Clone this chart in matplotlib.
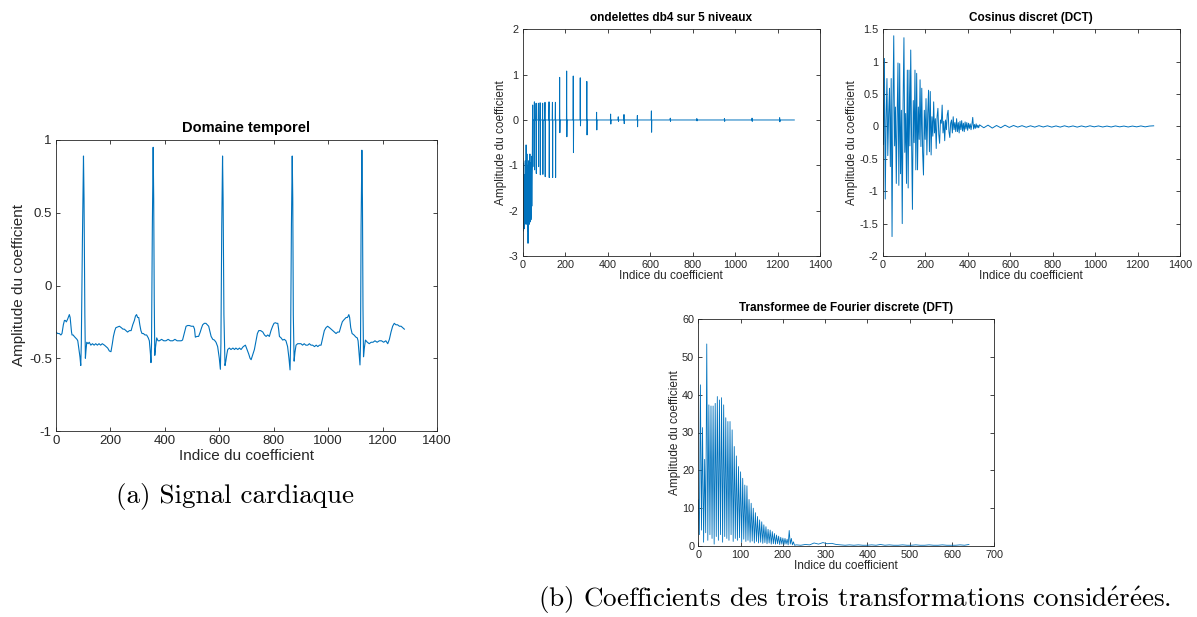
# Figure : signal cardiaque et coefficients des trois transformations
# (domaine temporel, ondelettes db4, DCT, DFT)

import numpy as np
import matplotlib
matplotlib.use('Agg')
import matplotlib.pyplot as plt

plt.rcParams['font.family'] = ['Liberation Sans', 'DejaVu Sans']
plt.rcParams['axes.unicode_minus'] = False
plt.rcParams['mathtext.fontset'] = 'cm'

BLEU = '#0072BD'
GRIS = '#262626'
SERIF = ['cmr10', 'DejaVu Serif']

# --- (a) signal cardiaque : sommets ---
ecg_idx = [0, 6, 12, 18, 22, 27, 31, 34, 38, 43, 47, 49, 52, 54, 57, 59, 63, 67, 72, 77,
           80, 83, 88, 91, 93, 97, 101, 103, 106, 108, 110, 113, 118, 122, 128, 134, 140,
           146, 152, 158, 164, 170, 178, 184, 190, 196, 202, 207, 211, 216, 220, 226, 233,
           240, 246, 251, 257, 263, 270, 276, 282, 288, 292, 296, 300, 304, 308, 312, 316,
           321, 327, 333, 339, 343, 347, 349, 351, 354, 357, 359, 361, 363, 366, 370, 375,
           380, 388, 396, 404, 412, 420, 429, 437, 445, 453, 460, 465, 471, 478, 484, 490,
           497, 505, 509, 512, 518, 524, 530, 535, 539, 545, 551, 556, 561, 565, 570, 576,
           582, 588, 594, 600, 604, 606, 609, 612, 614, 617, 621, 624, 628, 631, 637, 643,
           650, 656, 661, 668, 674, 680, 688, 696, 702, 708, 713, 717, 722, 729, 735, 740,
           745, 752, 760, 766, 772, 778, 784, 790, 796, 801, 806, 811, 815, 818, 821, 827,
           833, 839, 845, 851, 856, 860, 862, 865, 868, 870, 872, 875, 878, 882, 888, 894,
           900, 906, 912, 918, 925, 931, 937, 943, 950, 956, 962, 968, 974, 980, 986, 992,
           998, 1005, 1011, 1017, 1023, 1029, 1035, 1041, 1047, 1052, 1056, 1061, 1066,
           1071, 1076, 1079, 1083, 1088, 1095, 1102, 1107, 1110, 1114, 1117, 1119, 1121,
           1124, 1126, 1128, 1130, 1133, 1137, 1144, 1151, 1158, 1165, 1172, 1180, 1188,
           1196, 1204, 1212, 1219, 1225, 1231, 1237, 1243, 1249, 1255, 1262, 1268, 1274, 1280]
ecg_val = [-0.32, -0.33, -0.33, -0.34, -0.33, -0.27, -0.24, -0.24, -0.25, -0.23, -0.21,
           -0.20, -0.22, -0.26, -0.32, -0.34, -0.34, -0.35, -0.36, -0.37, -0.38, -0.42,
           -0.49, -0.55, -0.40, 0.30, 0.89, 0.60, -0.20, -0.50, -0.45, -0.39, -0.40, -0.39,
           -0.41, -0.40, -0.41, -0.40, -0.41, -0.40, -0.41, -0.40, -0.41, -0.42, -0.43,
           -0.45, -0.455, -0.40, -0.35, -0.31, -0.29, -0.285, -0.28, -0.29, -0.30, -0.30,
           -0.31, -0.32, -0.31, -0.31, -0.27, -0.24, -0.21, -0.20, -0.22, -0.22, -0.27,
           -0.31, -0.33, -0.33, -0.34, -0.34, -0.36, -0.38, -0.47, -0.53, -0.40, 0.40, 0.95,
           0.60, -0.10, -0.48, -0.42, -0.36, -0.38, -0.38, -0.37, -0.38, -0.38, -0.37,
           -0.38, -0.38, -0.37, -0.38, -0.38, -0.38, -0.375, -0.33, -0.28, -0.275, -0.275,
           -0.28, -0.28, -0.30, -0.355, -0.35, -0.35, -0.32, -0.29, -0.27, -0.26, -0.26,
           -0.27, -0.28, -0.31, -0.35, -0.37, -0.375, -0.39, -0.42, -0.50, -0.576, -0.40,
           0.40, 0.89, 0.60, -0.20, -0.55, -0.52, -0.47, -0.44, -0.43, -0.44, -0.43, -0.44,
           -0.43, -0.44, -0.43, -0.44, -0.42, -0.41, -0.44, -0.47, -0.50, -0.51, -0.48,
           -0.44, -0.38, -0.33, -0.31, -0.31, -0.32, -0.34, -0.35, -0.34, -0.35, -0.31,
           -0.28, -0.26, -0.256, -0.26, -0.26, -0.30, -0.35, -0.36, -0.375, -0.37, -0.38,
           -0.42, -0.50, -0.58, -0.40, 0.40, 0.89, 0.60, -0.20, -0.52, -0.46, -0.41, -0.40,
           -0.40, -0.40, -0.41, -0.40, -0.41, -0.41, -0.40, -0.41, -0.41, -0.42, -0.41,
           -0.42, -0.41, -0.41, -0.36, -0.31, -0.29, -0.28, -0.29, -0.30, -0.31, -0.32,
           -0.33, -0.32, -0.32, -0.28, -0.25, -0.24, -0.23, -0.22, -0.22, -0.20, -0.22,
           -0.29, -0.33, -0.34, -0.355, -0.36, -0.38, -0.47, -0.546, -0.40, 0.40, 0.93,
           0.60, -0.15, -0.49, -0.43, -0.375, -0.39, -0.40, -0.39, -0.39, -0.38, -0.39,
           -0.38, -0.38, -0.39, -0.38, -0.40, -0.37, -0.32, -0.28, -0.26, -0.27, -0.27,
           -0.28, -0.28, -0.29, -0.30]

# --- ondelettes db4 : approximation puis pics des details ---
wav_approx = [-0.85, -2.2, -1.3, -2.45, -0.95, -2.1, -1.8, -2.4, -1.2, -2.0,
              -1.4, -2.3, -0.9, -2.1, -1.1, -2.0, -0.55, -2.2, -1.0, -2.3,
              -0.75, -2.1, -1.2, -2.45, -1.0, -2.72, -1.4, -2.35, -0.9, -2.2,
              -1.0, -2.3, -1.35, -2.1, -0.75, -2.25, -1.1, -2.15, -0.95, -2.2,
              -1.6, -2.1, -0.8, -1.9, -1.2, -1.0]
wav_pic_idx = [47, 55, 63, 74, 82, 94, 105, 124, 140, 154,
               174, 207, 238, 271, 302, 348, 414, 450, 477, 540, 606,
               695, 820, 950, 1080, 1210]
wav_pic_haut = [0.33, 0.40, 0.37, 0.37, 0.38, 0.37, 0.39, 0.40, 0.39, 0.39,
                0.94, 1.08, 0.97, 0.93, 0.85, 0.17, 0.13, 0.07, 0.12, 0.10, 0.20,
                0.04, 0.03, 0.03, 0.04, 0.05]
wav_pic_bas = [-1.03, -1.10, -1.18, -1.03, -1.21, -1.20, -1.25, -1.27, -1.27, -1.27,
               -0.28, -0.37, -0.72, -0.13, -0.33, -0.22, -0.09, -0.03, -0.08, -0.15, -0.27,
               -0.03, -0.02, -0.03, -0.03, -0.04]
n_coef = 1280

# --- DCT : valeurs lues tous les 4 indices jusqu'a 452, puis tous les 20 ---
dct_tete = [0.40, -0.28, 1.05, -1.12, 0.10, 0.74, -0.45, 0.20, 0.59, -0.62,
            0.74, -1.70, 0.25, 1.40, -0.30, 0.30, -0.88, 0.15, 0.98, -0.91,
            0.97, -0.73, 0.25, -1.50, 0.35, 1.37, -0.40, 0.20, -0.88, 0.87,
            -0.95, 0.87, -0.30, 1.18, -0.20, -1.28, 0.40, -0.25, 0.87, -0.67,
            0.82, -0.67, 0.30, -0.20, 0.72, -0.31, 0.59, -0.40, -0.75, 0.25,
            -0.20, 0.43, -0.44, 0.20, 0.56, -0.39, 0.54, -0.44, 0.15, -0.15,
            0.38, -0.10, 0.12, -0.34, 0.15, 0.28, -0.12, -0.26, 0.10, 0.05,
            0.33, -0.10, 0.08, -0.22, 0.10, -0.05, 0.18, 0.25, -0.08, -0.17,
            0.05, 0.10, -0.10, 0.15, -0.05, 0.06, -0.08, 0.12, -0.08, 0.06,
            -0.10, 0.08, -0.05, 0.09, -0.07, 0.05, -0.08, 0.07, -0.04, 0.06,
            -0.06, 0.05, -0.03, 0.04, -0.05, 0.03, 0.14, -0.04, 0.03, -0.03,
            0.04, -0.02, 0.02, -0.02]
dct_queue = [0.025, -0.02, 0.02, -0.025, 0.015, -0.02, 0.02, -0.015, 0.015, -0.01,
             0.012, -0.012, 0.01, -0.01, 0.012, -0.008, 0.01, -0.01, 0.008, -0.01,
             0.01, -0.008, 0.008, -0.01, 0.008, -0.008, 0.01, -0.006, 0.008, -0.008,
             0.006, -0.008, 0.008, -0.006, 0.006, -0.008, 0.006, -0.006, 0.008, -0.006,
             0.006, 0.01]

# --- DFT : harmoniques (tous les 5 bins), creux entre elles, queue ---
dft_pics = [12.2, 42.6, 31.3, 22.9, 53.4, 37.3, 37.0, 37.0, 37.7, 39.5,
            38.6, 39.2, 37.3, 33.9, 32.9, 32.9, 30.7, 26.3, 23.8, 21.0,
            19.6, 17.9, 16.1, 15.9, 12.3, 11.3, 10.0, 8.8, 7.8, 6.9,
            6.4, 5.6, 5.1, 4.4, 4.2, 3.8, 3.3, 2.9, 2.6, 2.3,
            2.1, 2.0, 1.8, 4.1, 2.0, 1.1]
dft_creux = [3.0, 4.2, 1.0, 3.5, 1.5, 3.0, 2.0, 0.5, 2.5, 1.5,
             3.0, 1.0, 2.5, 2.0, 1.5, 3.0, 1.2, 2.0, 1.5, 2.2,
             1.0, 1.8, 1.2, 1.5, 1.0, 1.3, 0.8, 1.2, 0.8, 1.0,
             0.7, 0.9, 0.6, 0.8, 0.5, 0.6, 0.5, 0.6, 0.4, 0.5,
             0.4, 0.5, 0.3, 0.5, 0.3, 0.2]
dft_queue = [0.3, 0.2, 0.4, 0.3, 0.8, 0.5, 0.9, 0.6, 0.7, 0.4,
             0.3, 0.2, 0.3, 0.2, 0.3, 0.2, 0.2, 0.3, 0.2, 0.4,
             0.2, 0.3, 0.2, 0.2, 0.3, 0.2, 0.2, 0.3, 0.2, 0.2,
             0.3, 0.2, 0.2, 0.3, 0.2, 0.2, 0.2, 0.3, 0.2, 0.4]


def style_matlab(ax, taille_ticks):
    """Axes facon MATLAB : cadre gris, graduations vers l'interieur"""
    for s in ax.spines.values():
        s.set_color(GRIS)
        s.set_linewidth(0.6)
    ax.tick_params(direction='in', top=True, right=True, length=3,
                   width=0.6, colors=GRIS, labelsize=taille_ticks, pad=3)


W, H = 1197, 617
fig = plt.figure(figsize=(W / 100, H / 100), dpi=100)


def axes_px(gauche, haut, droite, bas):
    return fig.add_axes([gauche / W, 1 - bas / H, (droite - gauche) / W, (bas - haut) / H])


# (a) domaine temporel
ax = axes_px(56, 140, 437, 431)
ax.plot(ecg_idx, ecg_val, color=BLEU, lw=0.8)
ax.set_xlim(0, 1400)
ax.set_ylim(-1, 1)
ax.set_xticks(np.arange(0, 1401, 200))
ax.set_yticks([-1, -0.5, 0, 0.5, 1])
ax.set_yticklabels(['-1', '-0.5', '0', '0.5', '1'])
style_matlab(ax, 9.5)
ax.set_title('Domaine temporel', fontsize=10.5, fontweight='bold', pad=6)
ax.set_xlabel('Indice du coefficient', fontsize=11, color=GRIS, labelpad=1)
ax.set_ylabel('Amplitude du coefficient', fontsize=11, color=GRIS, labelpad=2)

# ondelettes db4
wav = np.zeros(n_coef)
wav[:len(wav_approx)] = wav_approx
for i, h, b in zip(wav_pic_idx, wav_pic_haut, wav_pic_bas):
    wav[i] = h
    wav[i + 1] = b
ax = axes_px(522.7, 29.3, 820, 256)
ax.plot(np.arange(n_coef), wav, color=BLEU, lw=0.7)
ax.set_xlim(0, 1400)
ax.set_ylim(-3, 2)
ax.set_xticks(np.arange(0, 1401, 200))
style_matlab(ax, 7.8)
ax.set_title('ondelettes db4 sur 5 niveaux', fontsize=8.5, fontweight='bold', pad=6)
ax.set_xlabel('Indice du coefficient', fontsize=8.5, color=GRIS, labelpad=0)
ax.set_ylabel('Amplitude du coefficient', fontsize=8.5, color=GRIS, labelpad=1)

# DCT
dct_x = np.concatenate([np.arange(len(dct_tete)) * 4,
                        456 + np.arange(len(dct_queue)) * 20])
dct_y = np.concatenate([dct_tete, dct_queue])
ax = axes_px(882.7, 29.3, 1180, 256)
ax.plot(dct_x, dct_y, color=BLEU, lw=0.7)
ax.set_xlim(0, 1400)
ax.set_ylim(-2, 1.5)
ax.set_xticks(np.arange(0, 1401, 200))
ax.set_yticks([-2, -1.5, -1, -0.5, 0, 0.5, 1, 1.5])
ax.set_yticklabels(['-2', '-1.5', '-1', '-0.5', '0', '0.5', '1', '1.5'])
style_matlab(ax, 7.8)
ax.set_title('Cosinus discret (DCT)', fontsize=8.5, fontweight='bold', pad=6)
ax.set_xlabel('Indice du coefficient', fontsize=8.5, color=GRIS, labelpad=0)
ax.set_ylabel('Amplitude du coefficient', fontsize=8.5, color=GRIS, labelpad=1)

# DFT
pics_x = np.arange(len(dft_pics)) * 5
dft_x = np.concatenate([np.column_stack([pics_x, pics_x + 2.5]).ravel(),
                        np.linspace(232, 640, len(dft_queue))])
dft_y = np.concatenate([np.column_stack([dft_pics, dft_creux]).ravel(), dft_queue])
ax = axes_px(698.3, 319, 994.3, 546)
ax.plot(dft_x, dft_y, color=BLEU, lw=0.6)
ax.set_xlim(0, 700)
ax.set_ylim(0, 60)
ax.set_xticks(np.arange(0, 701, 100))
style_matlab(ax, 7.8)
ax.set_title('Transformee de Fourier discrete (DFT)', fontsize=8.5, fontweight='bold', pad=6)
ax.set_xlabel('Indice du coefficient', fontsize=8.5, color=GRIS, labelpad=0)
ax.set_ylabel('Amplitude du coefficient', fontsize=8.5, color=GRIS, labelpad=1)

# legendes sous les figures (accents via mathtext, police Computer Modern)
fig.text(235 / W, 1 - 497 / H, '(a) Signal cardiaque', family=SERIF,
         fontsize=19.5, ha='center', va='center')
fig.text(855 / W, 1 - 600 / H,
         r'(b) Coefficients des trois transformations consid$\acute{\mathrm{e}}$r$\acute{\mathrm{e}}$es.',
         family=SERIF, fontsize=19.5, ha='center', va='center')

fig.savefig('out.png', dpi=100, facecolor='white')
